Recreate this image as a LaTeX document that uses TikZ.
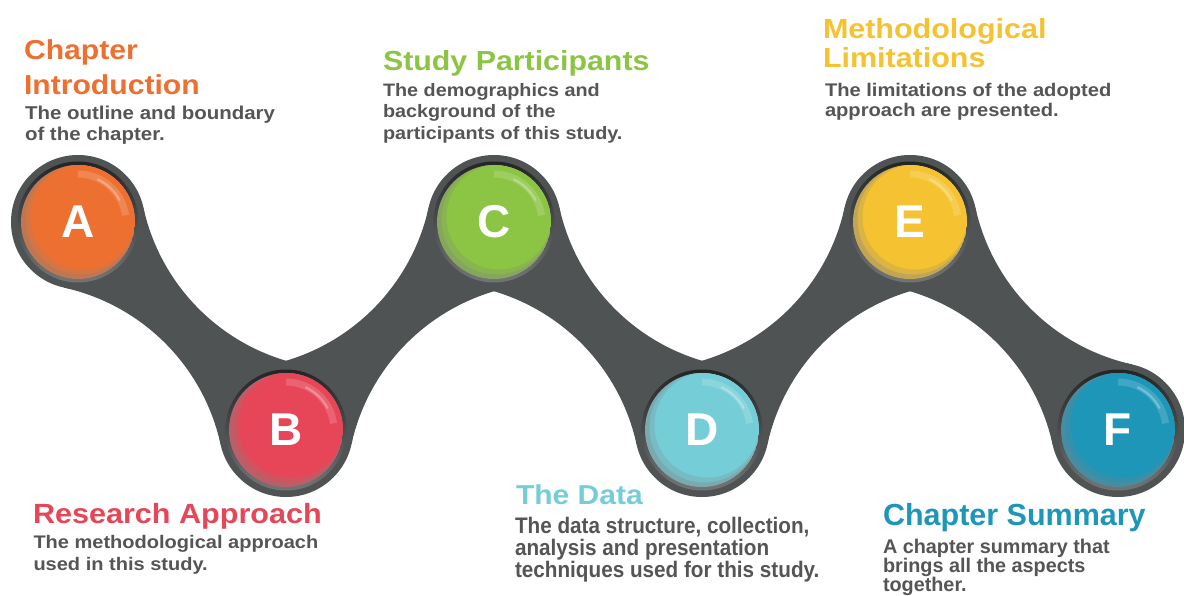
\documentclass[tikz,border=0pt]{standalone}
\usepackage{fontspec}
\usetikzlibrary{calc}
\setmainfont{Liberation Sans}
\newfontfamily\wfont[FakeStretch=1.1]{Liberation Sans}
\newfontfamily\nfont[FakeStretch=0.92]{Liberation Sans}
\definecolor{band}{HTML}{4F5354}
\definecolor{ringdark}{HTML}{222425}
\definecolor{ringlight}{HTML}{727475}
\definecolor{descgray}{HTML}{555555}
\definecolor{cA}{HTML}{EE7031}
\definecolor{cB}{HTML}{E64657}
\definecolor{cC}{HTML}{8CC443}
\definecolor{cD}{HTML}{75CDD7}
\definecolor{cE}{HTML}{F5C331}
\definecolor{cF}{HTML}{1D96B8}
\tikzset{
  bandfill/.style={fill=band},
  txt/.style={anchor=base west, inner sep=0pt, outer sep=0pt},
  wtitle/.style={txt, font=\wfont\bfseries\fontsize{#1}{#1}\selectfont},
  wdesc/.style={txt, text=descgray, font=\wfont\bfseries\fontsize{#1}{#1}\selectfont},
  ndesc/.style={txt, text=descgray, font=\nfont\bfseries\fontsize{#1}{#1}\selectfont},
  pdesc/.style={txt, text=descgray, font=\bfseries\fontsize{#1}{#1}\selectfont},
  ntitle/.style={txt, font=\bfseries\fontsize{#1}{#1}\selectfont},
  letter/.style={text=white, inner sep=0pt, font=\bfseries\fontsize{46}{46}\selectfont}
}
\begin{document}
\begin{tikzpicture}[x=1pt,y=-1pt]
\useasboundingbox[fill=white] (0,0) rectangle (1184,595);
% centres
\coordinate (pA) at (78,222);
\coordinate (pB) at (286,430);
\coordinate (pC) at (494,222);
\coordinate (pD) at (702,430);
\coordinate (pE) at (910,222);
\coordinate (pF) at (1118,430);
% band segments (down-going)
\foreach \p/\q in {pA/pB, pC/pD, pE/pF}{
  \fill[bandfill] (\p) -- ++(65.4,-14.4) arc[start angle=167.6, end angle=102.4, radius=205.8]
    -- (\q) -- ++(-65.4,14.4) arc[start angle=-12.4, end angle=-77.6, radius=205.8] -- cycle;
}
% band segments (up-going)
\foreach \p/\q in {pB/pC, pD/pE}{
  \fill[bandfill] (\p) -- ++(65.4,14.4) arc[start angle=-167.6, end angle=-102.4, radius=205.8]
    -- (\q) -- ++(-65.4,-14.4) arc[start angle=12.4, end angle=77.6, radius=205.8] -- cycle;
}
% balls
\foreach \n/\c in {A/cA, B/cB, C/cC, D/cD, E/cE, F/cF}{
  \fill[band] (p\n) circle[radius=67];
  \shade[top color=ringdark, bottom color=ringlight] (p\n) circle[radius=60.5];
  \begin{scope}
    \clip (p\n) circle[radius=57];
    \fill[\c!55!gray] (p\n) circle[radius=57];
    \fill[\c!78!gray] ($(p\n)+(2.5,-2.5)$) circle[radius=55];
    \fill[\c] ($(p\n)+(5,-5)$) circle[radius=52.5];
  \end{scope}
  \draw[white, opacity=0.16, line width=7pt] (p\n) ++(-90:48) arc[start angle=-90, end angle=-8, radius=48];
  \draw[white, opacity=0.28, line width=2.2pt, line cap=round] (p\n) ++(-65:47) arc[start angle=-65, end angle=-28, radius=47];
  \node[letter] (L\n) at (p\n) {\n};
}
% texts A
\node[wtitle=27.4, text=cA] (tA1) at (24,59.3) {Chapter};
\node[wtitle=27.4, text=cA] (tA2) at (24,94.3) {Introduction};
\node[wdesc=18.6] (dA1) at (25,119.3) {The outline and boundary};
\node[wdesc=18.6] (dA2) at (25,140.7) {of the chapter.};
% texts C
\node[wtitle=27.6, text=cC] (tC1) at (383,70) {Study Participants};
\node[wdesc=18.0] (dC1) at (383,96) {The demographics and};
\node[wdesc=18.0] (dC2) at (383,117.5) {background of the};
\node[wdesc=18.0] (dC3) at (383,139.5) {participants of this study.};
% texts E
\node[wtitle=27.7, text=cE] (tE1) at (823,38) {Methodological};
\node[wtitle=27.7, text=cE] (tE2) at (823,67.5) {Limitations};
\node[wdesc=18.3] (dE1) at (825,96.7) {The limitations of the adopted};
\node[wdesc=18.3] (dE2) at (825,116.7) {approach are presented.};
% texts B
\node[wtitle=27.8, text=cB] (tB1) at (33,523.3) {Research Approach};
\node[wdesc=18.2] (dB1) at (33.5,548.3) {The methodological approach};
\node[wdesc=18.2] (dB2) at (33.5,570) {used in this study.};
% texts D
\node[wtitle=27.3, text=cD] (tD1) at (516,504.3) {The Data};
\node[ndesc=22.5] (dD1) at (515,533.3) {The data structure, collection,};
\node[ndesc=22.5] (dD2) at (515,555.3) {analysis and presentation};
\node[ndesc=22.5] (dD3) at (515,577.3) {techniques used for this study.};
% texts F
\node[ntitle=30.5, text=cF] (tF1) at (883,525) {Chapter Summary};
\node[pdesc=19.8] (dF1) at (883,553.3) {A chapter summary that};
\node[pdesc=19.8] (dF2) at (883,572.5) {brings all the aspects};
\node[pdesc=19.8] (dF3) at (883,591.5) {together.};
\end{tikzpicture}
\end{document}
